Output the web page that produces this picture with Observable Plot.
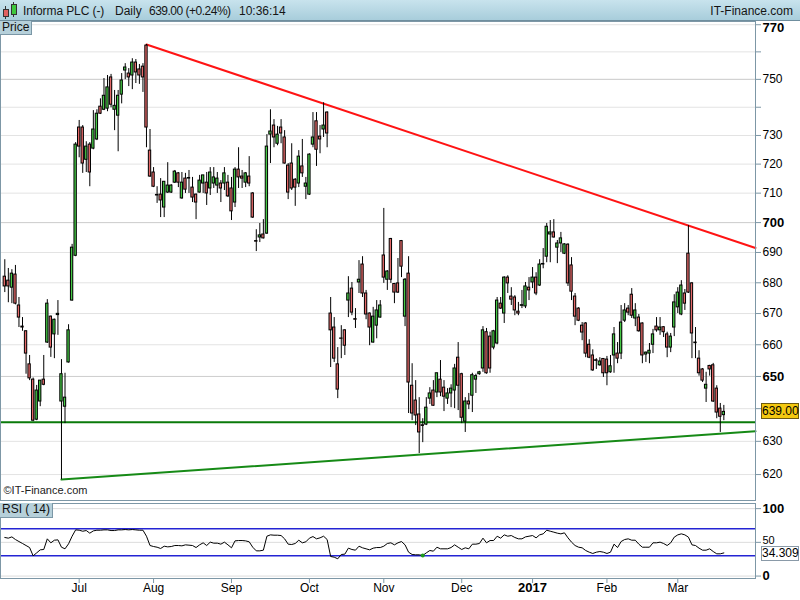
<!DOCTYPE html>
<html>
<head>
<meta charset="utf-8">
<script src="https://cdn.jsdelivr.net/npm/d3@7"></script>
<script src="https://cdn.jsdelivr.net/npm/@observablehq/plot@0.6"></script>
<style>
html,body{margin:0;padding:0;background:#fff;}
#wrap{position:relative;width:800px;height:600px;overflow:hidden;background:#fff;font-family:"Liberation Sans",Arial,sans-serif;font-size:12px;color:#111;}
.abs{position:absolute;}
#header{left:0;top:0;width:800px;height:20px;background:linear-gradient(#c8e3ed,#a8cddb);border-bottom:1px solid #6f8e9e;}
.ht{position:absolute;top:4px;line-height:14px;white-space:nowrap;color:#151515;}
.lbl{background:#b6d0da;border-right:1px solid #7b97a6;border-bottom:1px solid #7b97a6;line-height:13px;padding:0 2px 0 2px;color:#111;}
#lastPrice{left:761px;width:36px;height:14px;background:#f4c810;border:1px solid #6d5a10;line-height:14px;text-align:center;color:#000;}
#lastRsi{left:761px;width:36px;height:13px;background:#fff;border:1px solid #8a9aa8;line-height:13px;text-align:center;color:#000;}
svg{display:block;}
</style>
</head>
<body>
<div id="wrap">
  <div id="main" class="abs" style="left:0;top:21px"></div>
  <div id="rsi" class="abs" style="left:0;top:501px"></div>
  <div id="header" class="abs">
    <div class="abs" style="left:5px;top:6px;width:1px;height:13px;background:#333"></div>
    <div class="abs" style="left:3px;top:9px;width:4px;height:6px;background:#e06060;border:1px solid #333"></div>
    <div class="abs" style="left:13px;top:2px;width:1px;height:15px;background:#333"></div>
    <div class="abs" style="left:11px;top:4px;width:4px;height:9px;background:#3ec83e;border:1px solid #333"></div>
    <span class="ht" style="left:23px;letter-spacing:-0.1px">Informa PLC (-)</span>
    <span class="ht" style="left:115px">Daily</span>
    <span class="ht" style="left:149px;letter-spacing:-0.5px">639.00 (+0.24%)</span>
    <span class="ht" style="left:239px">10:36:14</span>
    <span class="ht" style="right:7px">IT-Finance.com</span>
  </div>
  <div class="abs lbl" style="left:0;top:21px">Price</div>
  <div class="abs lbl" style="left:0;top:503px;padding-bottom:1px">RSI ( 14)</div>
  <div id="lastPrice" class="abs">639.00</div>
  <div id="lastRsi" class="abs">34.309</div>
</div>
<script>
// ---------- data ----------
const firstDay = "2016-06-02";
const lastDay = "2017-03-20";
const holidays = ["2016-08-29", "2016-12-26", "2016-12-27", "2017-01-02"];

const opens = [682.0,680.7,678.4,682.7,672.6,665.8,664.3,653.8,649.0,636.6,
642.2,649.0,660.7,669.0,663.3,669.5,642.2,640.6,654.4,674.2,
688.9,732.8,732.8,721.5,726.8,725.4,728.6,740.2,739.1,739.5,
750.7,739.1,737.0,744.5,753.2,752.1,751.4,756.1,753.6,754.6,
762.3,724.7,717.1,709.4,709.5,705.1,710.2,710.2,713.6,716.8,
708.2,715.0,715.0,711.9,709.5,710.2,713.3,713.6,711.6,713.3,
712.6,713.3,713.3,713.6,711.6,706.8,718.1,715.7,713.6,715.7,
709.9,693.8,695.0,696.0,696.3,730.3,733.5,727.1,732.8,729.3,
719.5,720.2,714.6,713.3,719.2,712.2,709.5,726.8,735.0,729.6,
732.1,738.1,670.0,665.5,653.8,662.0,664.6,674.2,678.1,668.2,
680.1,686.0,676.5,670.0,660.7,666.1,668.7,689.0,681.0,694.5,
679.6,679.8,693.8,669.0,683.0,647.1,642.5,638.2,634.9,635.1,
643.1,645.6,645.0,649.0,646.5,643.1,644.7,645.6,655.9,650.7,
636.0,642.2,644.0,649.0,650.7,652.5,664.0,662.6,659.1,660.4,
673.2,670.0,681.7,675.5,675.2,670.6,672.5,672.3,678.4,680.1,
681.7,679.1,686.0,688.6,696.0,696.7,691.6,693.0,689.6,692.6,
685.7,675.5,671.6,666.1,666.8,660.0,656.6,655.1,653.5,655.5,
655.3,651.3,656.6,657.2,657.2,667.7,671.6,676.1,668.4,668.7,
666.8,656.9,657.2,660.0,665.8,664.6,665.6,663.3,659.1,665.5,
672.0,669.7,676.5,689.6,679.8,660.7,655.6,652.2,646.2,653.3,
653.5,646.2,640.0,638.0];
const highs = [687.6,684.7,684.3,685.7,675.2,668.7,664.5,656.6,649.5,647.2,
648.7,656.6,674.5,669.2,668.2,674.2,655.3,651.0,666.4,692.7,
727.5,735.3,733.5,727.8,727.5,738.8,739.1,743.0,750.3,751.4,
751.8,746.0,746.0,752.1,755.7,753.9,757.5,757.2,755.4,755.7,
762.7,732.1,718.8,712.2,715.0,713.9,720.5,712.9,717.8,717.1,
717.1,716.8,717.8,715.4,709.7,716.1,716.1,717.1,718.8,718.8,
717.1,714.3,718.8,716.1,715.4,718.8,725.7,717.8,717.1,722.6,
710.2,697.6,699.7,701.0,730.3,739.1,735.6,733.2,735.6,731.7,
720.2,727.1,715.0,724.7,728.6,715.4,723.6,738.1,738.1,733.5,
741.6,738.4,675.2,668.7,659.1,666.1,664.8,682.0,680.1,671.6,
687.3,688.6,677.5,670.2,672.0,674.2,674.2,704.8,684.0,694.7,
679.8,688.0,694.0,681.4,688.6,654.0,648.7,643.4,636.9,643.4,
646.5,648.7,651.0,655.0,648.7,646.2,647.4,653.8,660.7,651.0,
643.4,644.7,651.0,650.7,651.6,665.8,665.2,664.0,664.6,675.2,
675.2,682.0,682.3,678.4,675.8,673.6,677.5,680.1,681.7,685.0,
683.3,687.6,691.3,699.7,700.7,701.0,694.0,696.7,692.9,692.9,
688.3,676.5,671.9,667.1,667.1,661.6,658.4,655.6,655.9,655.6,
656.3,656.6,665.5,660.7,672.6,673.2,672.6,678.1,673.2,669.7,
667.0,657.7,660.4,664.9,668.7,668.7,665.8,664.0,663.6,676.1,
678.4,680.7,677.8,699.0,680.1,665.5,658.1,652.5,651.3,653.5,
654.1,647.1,641.6,641.0];
const lows = [676.8,673.5,673.2,672.8,665.5,664.3,650.7,648.7,636.0,636.3,
640.6,647.1,660.4,656.0,655.6,663.0,618.5,635.4,654.2,674.0,
688.6,722.2,716.8,717.1,712.2,725.0,728.2,737.4,738.8,738.4,
739.8,731.7,724.3,741.2,749.9,747.4,746.3,748.5,748.2,745.3,
725.7,715.4,711.9,706.5,701.7,701.7,709.9,709.9,713.3,711.9,
707.9,709.9,709.9,706.8,701.0,710.0,709.9,705.8,709.2,711.6,
709.9,706.8,710.9,708.5,700.7,705.1,711.6,711.6,711.9,712.2,
701.4,690.3,693.3,694.5,696.0,720.2,725.7,726.4,727.1,720.0,
707.8,710.9,705.5,711.9,715.4,707.8,709.2,725.7,719.2,723.6,
729.3,725.7,652.8,654.4,643.1,655.6,656.6,668.7,669.3,665.2,
676.5,675.2,668.0,659.7,660.5,661.9,668.5,679.8,677.5,679.8,
673.2,676.5,681.7,665.8,638.5,636.3,634.8,626.3,629.6,634.8,
641.3,640.7,643.4,643.7,639.1,641.3,640.3,640.0,639.4,635.4,
632.7,639.7,638.8,644.7,650.4,651.3,650.7,651.0,658.4,660.0,
671.3,666.8,676.5,672.6,669.3,669.3,671.6,671.6,674.2,678.1,
675.8,678.8,684.6,686.6,686.6,694.8,686.3,690.0,689.3,678.8,
674.2,666.1,667.4,661.3,655.9,655.6,651.6,652.2,653.2,649.7,
647.1,651.0,651.0,654.0,655.3,667.1,669.3,668.4,665.8,664.0,
654.0,654.4,654.0,657.2,664.0,663.0,662.3,655.9,657.5,662.6,
670.0,669.3,671.0,676.5,655.6,655.6,650.1,648.1,641.9,650.1,
641.9,636.9,632.7,636.3];
const closes = [678.8,678.8,683.0,673.2,668.7,665.5,657.2,649.4,636.3,645.6,
648.7,647.4,673.2,659.1,668.0,669.9,650.7,643.4,664.6,691.6,
726.8,726.1,720.2,726.1,717.1,732.1,737.7,737.7,744.1,747.1,
740.9,740.5,744.1,749.6,754.3,750.7,756.1,752.5,751.4,750.7,
732.8,715.7,712.2,709.2,707.5,713.9,712.6,712.6,717.4,713.6,
713.6,711.2,715.2,708.5,706.8,714.3,716.1,709.9,717.1,715.4,
715.0,711.6,716.8,708.9,703.8,718.1,715.4,715.0,716.8,713.3,
701.7,693.6,695.7,694.7,726.1,731.4,729.3,730.3,730.7,720.2,
710.2,711.6,711.9,722.6,716.8,713.3,723.3,729.3,725.0,728.6,
733.5,730.7,664.6,655.6,645.9,661.9,659.7,676.5,670.3,668.0,
681.0,676.5,669.7,665.5,669.0,671.0,672.6,681.7,683.7,681.0,
676.8,676.8,685.3,681.0,648.1,638.5,637.9,632.7,634.7,640.3,
644.7,640.9,651.0,645.0,643.7,644.7,646.2,652.5,647.1,637.2,
642.2,641.3,650.4,650.1,651.3,664.6,651.0,652.5,664.3,674.2,
671.6,681.7,679.8,674.5,671.0,670.0,672.7,678.8,677.5,681.7,
676.5,686.0,686.2,698.6,696.7,695.0,693.0,694.7,692.7,679.8,
677.1,669.0,667.7,663.9,657.2,655.9,651.9,654.9,654.7,651.0,
651.0,653.2,663.3,655.6,667.1,671.0,670.3,669.3,671.0,664.3,
656.6,657.5,658.1,663.3,664.6,665.5,664.0,659.1,662.6,673.6,
676.8,679.1,673.2,676.8,663.6,660.5,651.0,648.7,647.4,652.2,
642.2,638.8,637.5,639.0];
const rsiValues = [57.2,56.2,58.1,54.2,51.2,48.3,45.3,42.3,30.0,34.4,
38.9,39.4,55.2,49.3,53.2,53.7,42.8,40.4,47.8,59.1,
68.5,68.0,66.5,67.5,63.6,67.0,68.0,68.0,68.5,68.5,
67.5,67.5,68.5,68.5,69.0,68.5,69.0,68.5,68.0,68.0,
59.1,45.3,43.8,42.8,40.9,44.3,43.3,43.8,45.3,45.3,
44.8,46.3,45.8,45.3,42.3,46.3,49.3,45.3,50.3,48.8,
48.8,47.3,50.3,46.3,41.9,52.2,52.7,52.7,52.2,50.8,
42.8,37.4,37.4,38.4,59.1,61.1,60.6,60.6,60.1,55.2,
47.3,46.8,48.3,53.2,49.3,50.8,56.2,58.6,55.2,56.7,
59.1,54.2,29.0,28.0,25.6,32.0,32.5,41.4,39.4,38.4,
44.3,41.9,40.4,38.9,41.4,42.3,42.3,44.3,48.3,49.3,
46.3,49.3,51.2,46.3,35.4,32.0,31.5,31.5,30.5,34.4,
37.9,36.9,42.8,40.4,40.4,40.4,42.3,46.3,42.8,39.4,
41.9,40.4,47.3,47.3,48.3,56.2,49.3,52.7,52.7,59.1,
56.2,61.1,59.1,60.1,57.2,55.2,55.2,58.1,59.1,60.1,
56.7,61.1,62.6,68.0,66.5,65.1,63.6,62.6,64.1,56.7,
50.3,45.3,42.8,41.9,37.9,35.4,33.5,35.4,36.4,35.4,
33.5,35.4,47.3,42.3,51.2,54.2,55.2,53.2,53.2,47.3,
42.8,42.8,42.8,49.3,49.3,50.3,48.3,45.3,49.3,57.7,
61.1,62.6,61.1,57.7,46.3,45.3,41.4,38.4,38.4,40.4,
36.4,33.0,33.0,34.309];

// trend lines (candle index, price)
const resistIdx = [40, 211.94];
const resistPrice = [762.7, 691.5];
const risingIdx = [16, 211.94];
const risingPrice = [618.5, 633.1];
const supportLevel = [635.8];
const rsiSignalIdx = [118];
const rsiSignalVal = [30.5];

// axes
const priceGrid = [620,630,640,650,660,670,680,690,700,710,720,730,740,750,760,770];
const priceGridMajor = [650,700,750];
const priceLabelsNormal = [620,630,660,670,680,690,710,720,730,750];
const priceLabelsBold = [650,700];
const priceLabelTop = [770];
const rsiLevels = [30,70];
const rsiGrid = [0,50,100];
const rsiLabelsNormal = [50];
const rsiLabelsBold = [0,100];
const monthLabels = ["Jul","Aug","Sep","Oct","Nov","Dec","2017","Feb","Mar"];
const boldMonthLabels = ["2017"];

// ---------- build ----------
const days = [];
for (let t = new Date(firstDay + "T00:00:00Z"); t <= new Date(lastDay + "T00:00:00Z"); t = new Date(t.getTime() + 86400000)) {
  const dow = t.getUTCDay();
  const iso = t.toISOString().slice(0, 10);
  if (dow === 0 || dow === 6 || holidays.includes(iso)) continue;
  days.push(t);
}
const monthTickIdx = [];
for (let i = 1; i < days.length; i++) if (days[i].getUTCMonth() !== days[i-1].getUTCMonth()) monthTickIdx.push(i);
const monthTicks = monthTickIdx.map((idx, k) => ({idx, label: monthLabels[k], bold: boldMonthLabels.includes(monthLabels[k])}));

const candles = closes.map((c, i) => ({i, open: opens[i], high: highs[i], low: lows[i], close: c, up: c >= opens[i], date: days[i]}));
const resistLine = resistIdx.map((i, k) => ({i, p: resistPrice[k]}));
const risingLine = risingIdx.map((i, k) => ({i, p: risingPrice[k]}));
const rsiData = rsiValues.map((v, i) => ({i, v}));
const rsiSignal = rsiSignalIdx.map((i, k) => ({i, v: rsiSignalVal[k]}));

const xDomain = [-1.214, 211.94];
const frameColor = "#7d97a6";
const font = {fontFamily: "'Liberation Sans', Arial, sans-serif", fontSize: "12px", background: "transparent", color: "#000"};

const main = Plot.plot({
  width: 800, height: 480,
  marginLeft: 0, marginRight: 45, marginTop: 0, marginBottom: 1,
  style: font,
  x: {type: "linear", domain: xDomain, axis: null},
  y: {type: "log", domain: [612.3, 771.2], axis: null, label: null},
  marks: [
    Plot.ruleY(priceGrid, {stroke: "#e3e3e3"}),
    Plot.ruleY(priceGridMajor, {stroke: "#cfcfcf"}),
    Plot.ruleY(supportLevel, {stroke: "#0a7a0a", strokeWidth: 2}),
    Plot.line(risingLine, {x: "i", y: "p", stroke: "#168a16", strokeWidth: 2}),
    Plot.line(resistLine, {x: "i", y: "p", stroke: "#ff1414", strokeWidth: 2}),
    Plot.ruleX(candles, {x: "i", y1: "low", y2: "high", stroke: "#000", strokeWidth: 1}),
    Plot.rect(candles, {x1: d => d.i - 0.33, x2: d => d.i + 0.33, y1: "open", y2: "close",
      fill: d => d.up ? "#45c845" : "#e46868", stroke: "#000", strokeWidth: 1}),
    Plot.axisY({anchor: "right", ticks: priceGrid, tickSize: 5, tickFormat: () => "", stroke: frameColor, label: null}),
    Plot.text(priceLabelsNormal, {y: d => d, text: d => String(d), frameAnchor: "right", dx: 7, textAnchor: "start", fill: "#000"}),
    Plot.text(priceLabelsBold, {y: d => d, text: d => String(d), frameAnchor: "right", dx: 7, textAnchor: "start", fill: "#000", fontWeight: "bold", fontSize: 13}),
    Plot.text(priceLabelTop, {y: d => d, text: d => String(d), frameAnchor: "right", dx: 7, dy: 3, textAnchor: "start", fill: "#000", fontWeight: "bold", fontSize: 13}),
    Plot.text(["©IT-Finance.com"], {frameAnchor: "bottom-left", dx: 3, dy: -7, textAnchor: "start", fontSize: 11, fill: "#222"}),
    Plot.frame({stroke: frameColor})
  ]
});
document.getElementById("main").appendChild(main);

const rsiPlot = Plot.plot({
  width: 800, height: 99,
  marginLeft: 0, marginRight: 45, marginTop: 2, marginBottom: 22,
  style: font,
  x: {type: "linear", domain: xDomain, axis: null},
  y: {domain: [-3.6, 107.6], axis: null, label: null},
  marks: [
    Plot.ruleY(rsiGrid, {stroke: "#dcdcdc"}),
    Plot.ruleY(rsiLevels, {stroke: "#2424d4", strokeWidth: 1.5}),
    Plot.line(rsiData, {x: "i", y: "v", stroke: "#000", strokeWidth: 1}),
    Plot.dot(rsiSignal, {x: "i", y: "v", fill: "#1d9a1d", r: 2}),
    Plot.axisY({anchor: "right", ticks: rsiGrid, tickSize: 5, tickFormat: () => "", stroke: frameColor, label: null}),
    Plot.text(rsiLabelsNormal, {y: d => d, text: d => String(d), frameAnchor: "right", dx: 7, dy: -2, textAnchor: "start", fill: "#000", fontSize: 11}),
    Plot.text(rsiLabelsBold, {y: d => d, text: d => String(d), frameAnchor: "right", dx: 7, textAnchor: "start", fill: "#000", fontWeight: "bold", fontSize: 13}),
    Plot.axisX({anchor: "bottom", ticks: monthTickIdx, tickSize: 5, tickFormat: () => "", stroke: frameColor, label: null}),
    Plot.text(monthTicks.filter(d => !d.bold), {x: "idx", text: "label", frameAnchor: "bottom", dy: 13, fill: "#000"}),
    Plot.text(monthTicks.filter(d => d.bold), {x: "idx", text: "label", frameAnchor: "bottom", dy: 13, fill: "#000", fontWeight: "bold", fontSize: 13}),
    Plot.frame({stroke: frameColor})
  ]
});
document.getElementById("rsi").appendChild(rsiPlot);

// value boxes placed on the scales
const yLast = main.scale("y").apply(closes[closes.length - 1]) + 21;
const lp = document.getElementById("lastPrice");
lp.style.top = (yLast - 8) + "px";
lp.textContent = closes[closes.length - 1].toFixed(2);
const yR = rsiPlot.scale("y").apply(rsiValues[rsiValues.length - 1]) + 501;
const lr = document.getElementById("lastRsi");
lr.style.top = (yR - 6) + "px";
lr.textContent = rsiValues[rsiValues.length - 1].toFixed(3);
</script>
</body>
</html>
